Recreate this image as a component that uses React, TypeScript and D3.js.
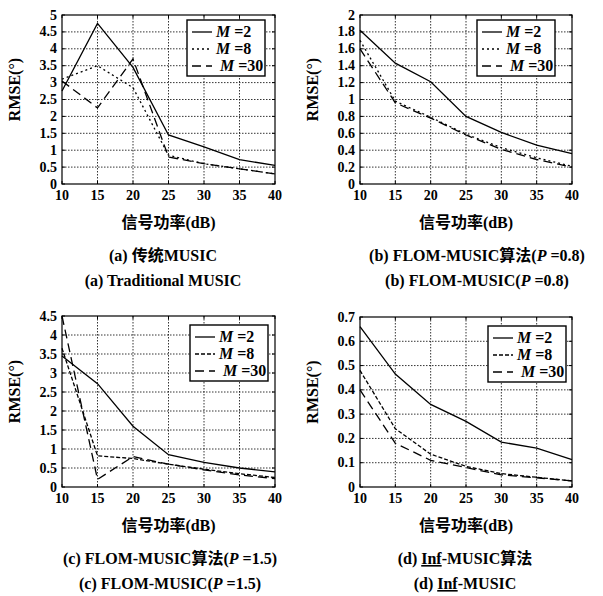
import React from 'react';
import * as d3 from 'd3';

const snr = [10, 15, 20, 25, 30, 35, 40];
const seriesNames = ['2', '8', '30'];

// (a) traditional MUSIC
const aM2 = [2.75, 4.75, 3.45, 1.45, 1.1, 0.72, 0.55];
const aM8 = [3.1, 3.5, 2.85, 0.85, 0.6, 0.45, 0.3];
const aM30 = [3.05, 2.25, 3.7, 0.8, 0.6, 0.45, 0.3];
// (b) FLOM-MUSIC p=0.8
const bM2 = [1.82, 1.43, 1.21, 0.8, 0.61, 0.46, 0.36];
const bM8 = [1.7, 0.98, 0.79, 0.59, 0.43, 0.31, 0.21];
const bM30 = [1.6, 0.96, 0.78, 0.58, 0.41, 0.29, 0.2];
// (c) FLOM-MUSIC p=1.5
const cM2 = [3.45, 2.72, 1.6, 0.85, 0.65, 0.5, 0.4];
const cM8 = [3.65, 0.82, 0.75, 0.6, 0.47, 0.35, 0.25];
const cM30 = [4.5, 0.2, 0.8, 0.6, 0.45, 0.32, 0.22];
// (d) Inf-MUSIC
const dM2 = [0.66, 0.465, 0.34, 0.27, 0.185, 0.16, 0.113];
const dM8 = [0.48, 0.24, 0.135, 0.085, 0.055, 0.04, 0.025];
const dM30 = [0.4, 0.18, 0.11, 0.08, 0.05, 0.038, 0.025];

const xLabel = '信号功率(dB)';
const yLabel = 'RMSE(°)';

const SERIF = "'Liberation Serif', 'DejaVu Serif', 'Noto Sans CJK SC', serif";

type Panel = {
  series: number[][];
  yMax: number;
  yStep: number;
  box: { x0: number; x1: number; y0: number; y1: number };
  legend: { x: number; y: number };
  dashes: string[];
  cap1: React.ReactNode;
  cap2: React.ReactNode;
  capX: number;
};

const italicP = <tspan fontStyle="italic">P</tspan>;

const panels: Panel[] = [
  {
    series: [aM2, aM8, aM30],
    yMax: 5,
    yStep: 0.5,
    box: { x0: 62, x1: 275, y0: 15, y1: 184 },
    legend: { x: 187, y: 20 },
    dashes: ['none', '2,3', '9,5'],
    cap1: <>(a) 传统MUSIC</>,
    cap2: <>(a) Traditional MUSIC</>,
    capX: 163,
  },
  {
    series: [bM2, bM8, bM30],
    yMax: 2,
    yStep: 0.2,
    box: { x0: 360, x1: 572, y0: 15, y1: 184 },
    legend: { x: 477, y: 20 },
    dashes: ['none', '2,3', '9,5'],
    cap1: <>(b) FLOM-MUSIC算法({italicP} =0.8)</>,
    cap2: <>(b) FLOM-MUSIC({italicP} =0.8)</>,
    capX: 477,
  },
  {
    series: [cM2, cM8, cM30],
    yMax: 4.5,
    yStep: 0.5,
    box: { x0: 62, x1: 275, y0: 316, y1: 487 },
    legend: { x: 190, y: 325 },
    dashes: ['none', '4,2', '9,5'],
    cap1: <>(c) FLOM-MUSIC算法({italicP} =1.5)</>,
    cap2: <>(c) FLOM-MUSIC({italicP} =1.5)</>,
    capX: 170,
  },
  {
    series: [dM2, dM8, dM30],
    yMax: 0.7,
    yStep: 0.1,
    box: { x0: 360, x1: 572, y0: 317, y1: 487 },
    legend: { x: 488, y: 326 },
    dashes: ['none', '4,2', '9,5'],
    cap1: <>(d) <tspan textDecoration="underline">Inf</tspan>-MUSIC算法</>,
    cap2: <>(d) <tspan textDecoration="underline">Inf</tspan>-MUSIC</>,
    capX: 465,
  },
];

const fmt = (v: number) => String(+v.toFixed(2));

function ChartPanel({ p }: { p: Panel }) {
  const { box } = p;
  const x = d3.scaleLinear().domain([10, 40]).range([box.x0, box.x1]);
  const y = d3.scaleLinear().domain([0, p.yMax]).range([box.y1, box.y0]);
  const yTicks = d3.range(0, p.yMax + p.yStep / 2, p.yStep);
  const line = d3
    .line<number>()
    .x((_, i) => x(snr[i]))
    .y((d) => y(d));

  return (
    <g>
      {/* grid */}
      {snr.slice(1, -1).map((t) => (
        <line key={'vx' + t} x1={x(t)} x2={x(t)} y1={box.y0} y2={box.y1}
          stroke="#000" strokeWidth={0.8} strokeDasharray="1.5,1.5" />
      ))}
      {yTicks.slice(1, -1).map((t) => (
        <line key={'hy' + t} x1={box.x0} x2={box.x1} y1={y(t)} y2={y(t)}
          stroke="#000" strokeWidth={0.8} strokeDasharray="1.5,1.5" />
      ))}
      {/* ticks */}
      {snr.map((t) => (
        <g key={'tx' + t}>
          <line x1={x(t)} x2={x(t)} y1={box.y1} y2={box.y1 - 3} stroke="#000" />
          <line x1={x(t)} x2={x(t)} y1={box.y0} y2={box.y0 + 3} stroke="#000" />
          <text x={x(t)} y={box.y1 + 16} textAnchor="middle" fontSize={14}
            fontWeight="bold">{t}</text>
        </g>
      ))}
      {yTicks.map((t) => (
        <g key={'ty' + t}>
          <line x1={box.x0} x2={box.x0 + 3} y1={y(t)} y2={y(t)} stroke="#000" />
          <line x1={box.x1} x2={box.x1 - 3} y1={y(t)} y2={y(t)} stroke="#000" />
          <text x={box.x0 - 5} y={y(t) + 4.5} textAnchor="end" fontSize={14}
            fontWeight="bold">{fmt(t)}</text>
        </g>
      ))}
      {/* series */}
      {p.series.map((s, i) => (
        <path key={i} d={line(s) || ''} fill="none" stroke="#000" strokeWidth={1.3}
          strokeDasharray={p.dashes[i]} />
      ))}
      <rect x={box.x0} y={box.y0} width={box.x1 - box.x0} height={box.y1 - box.y0}
        fill="none" stroke="#000" strokeWidth={1.2} />
      {/* legend */}
      <g transform={`translate(${p.legend.x},${p.legend.y})`}>
        <rect x={0} y={0} width={78} height={56} fill="#fff" stroke="#000" strokeWidth={1.4} />
        {seriesNames.map((n, i) => (
          <g key={n} transform={`translate(0,${12 + i * 17})`}>
            <line x1={5} x2={25} y1={0} y2={0} stroke="#000" strokeWidth={1.3}
              strokeDasharray={p.dashes[i]} />
            <text x={n === '30' ? 33 : 29} y={5} fontSize={16} fontWeight="bold">
              <tspan fontStyle="italic">M</tspan>{' =' + n}
            </text>
          </g>
        ))}
      </g>
      {/* labels */}
      <text transform={`translate(${box.x0 - 42},${(box.y0 + box.y1) / 2 - 10}) rotate(-90)`}
        textAnchor="middle" fontSize={16} fontWeight="bold">{yLabel}</text>
      <text x={(box.x0 + box.x1) / 2} y={box.y1 + 44} textAnchor="middle" fontSize={16}
        fontWeight="bold">{xLabel}</text>
      <text x={p.capX} y={box.y1 + 77} textAnchor="middle" fontSize={16}
        fontWeight="bold">{p.cap1}</text>
      <text x={p.capX} y={box.y1 + 102} textAnchor="middle" fontSize={16}
        fontWeight="bold">{p.cap2}</text>
    </g>
  );
}

export default function App() {
  return (
    <svg width={603} height={596} viewBox="0 0 603 596"
      style={{ position: 'absolute', left: 0, top: 0, background: '#fff', fontFamily: SERIF }}>
      <rect width={603} height={596} fill="#fff" />
      {panels.map((p, i) => (
        <ChartPanel key={i} p={p} />
      ))}
    </svg>
  );
}
